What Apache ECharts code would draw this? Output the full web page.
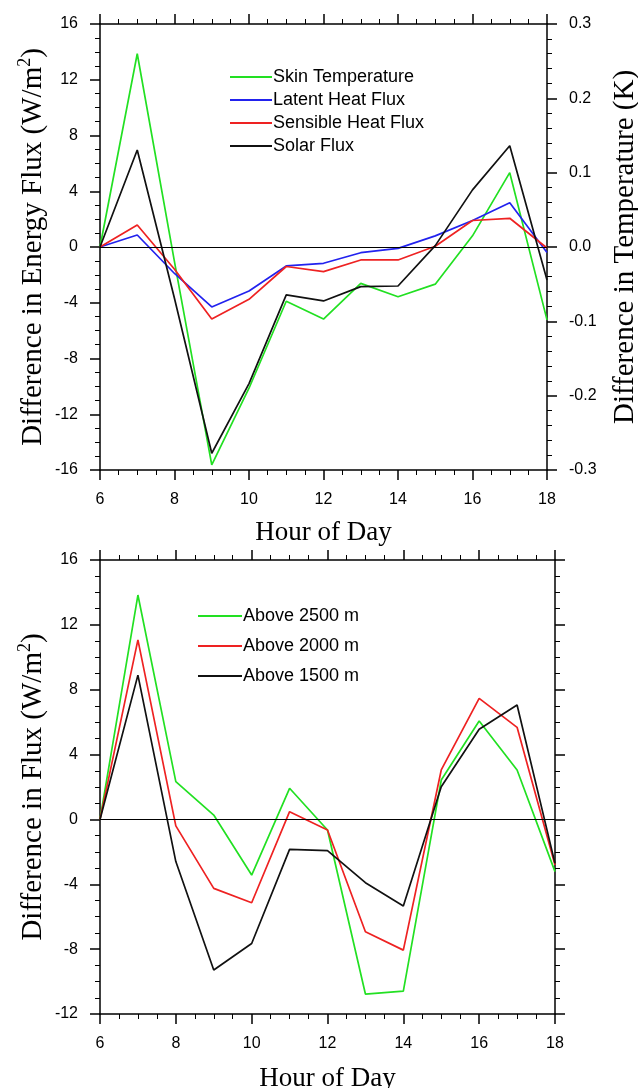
<!DOCTYPE html>
<html><head><meta charset="utf-8">
<script src="https://cdn.jsdelivr.net/npm/echarts@6/dist/echarts.min.js"></script>
<style>html,body{margin:0;padding:0;background:#fff}#c{width:638px;height:1088px}</style>
</head><body><div id="c"></div>
<script>
const hours = [6,7,8,9,10,11,12,13,14,15,16,17,18];
// Top panel
const skinTemperatureK = [0, 0.26, -0.02, -0.293, -0.19, -0.073, -0.097, -0.049, -0.067, -0.05, 0.015, 0.1, -0.098];
const latentHeatFlux = [0, 0.86, -1.9, -4.3, -3.16, -1.36, -1.17, -0.41, -0.1, 0.8, 1.9, 3.18, -0.4];
const sensibleHeatFlux = [0, 1.58, -1.6, -5.16, -3.75, -1.4, -1.77, -0.93, -0.93, 0.05, 1.9, 2.06, -0.07];
const solarFlux = [0, 6.96, -3.7, -14.8, -9.8, -3.44, -3.87, -2.84, -2.8, 0.1, 4.1, 7.27, -2.37];
// Bottom panel
const above2500 = [0, 13.84, 2.33, 0.27, -3.43, 1.92, -0.65, -10.77, -10.59, 2.43, 6.07, 3.05, -3.22];
const above2000 = [0, 11.07, -0.4, -4.25, -5.14, 0.48, -0.65, -6.93, -8.06, 3.05, 7.47, 5.68, -2.81];
const above1500 = [0, 8.9, -2.6, -9.29, -7.65, -1.85, -1.93, -3.9, -5.34, 2.02, 5.56, 7.06, -2.71];
const topNames = ['Skin Temperature','Latent Heat Flux','Sensible Heat Flux','Solar Flux'];
const bottomNames = ['Above 2500 m','Above 2000 m','Above 1500 m'];

const GREEN = '#22e022', BLUE = '#2222ee', RED = '#ee2222', BLACK = '#111111';
const SANS = 'Liberation Sans', SERIF = 'Liberation Serif';
const pairs = v => hours.map((h,i)=>[h, v[i]]);
const richSup = {
  t:{fontFamily:SERIF, fontSize:29, color:'#000', lineHeight:32, verticalAlign:'bottom'},
  sup:{fontFamily:SERIF, fontSize:18, color:'#000', lineHeight:32, verticalAlign:'top', padding:[0,0,12,0]}
};

function xAx(grid, pos, labels, name, gap){
  return {type:'value', gridIndex:grid, position:pos, min:6, max:18, interval:2,
    axisLine:{show:true, onZero:false, lineStyle:{color:'#000', width:1.5}},
    axisTick:{show:true, length:10, lineStyle:{color:'#000', width:1.5}},
    minorTick:{show:true, splitNumber:4, length:5, lineStyle:{color:'#000', width:1}},
    axisLabel:{show:labels, margin:22, color:'#000', fontFamily:SANS, fontSize:16},
    splitLine:{show:false}, minorSplitLine:{show:false},
    name:name, nameLocation:'middle', nameGap:gap, nameMoveOverlap:false,
    nameTextStyle:{fontFamily:SERIF, fontSize:27, color:'#000'}};
}
function yAx(grid, pos, min, max, interval, minorSplit, labels, fmt, name, gap){
  return {type:'value', gridIndex:grid, position:pos, min:min, max:max, interval:interval,
    axisLine:{show:true, onZero:false, lineStyle:{color:'#000', width:1.5}},
    axisTick:{show:true, length:10, lineStyle:{color:'#000', width:1.5}},
    minorTick:{show:true, splitNumber:minorSplit, length:5, lineStyle:{color:'#000', width:1}},
    axisLabel:{show:labels, margin:22, color:'#000', fontFamily:SANS, fontSize:16, formatter:fmt},
    splitLine:{show:false}, minorSplitLine:{show:false},
    name:name, nameLocation:'middle', nameGap:gap, nameMoveOverlap:false,
    nameTextStyle:{fontFamily:SERIF, fontSize:29, color:'#000', rich:richSup}};
}
const zeroLine = {silent:true, symbol:'none', label:{show:false},
  lineStyle:{color:'#000', width:1, type:'solid'}, data:[{yAxis:0}]};
function line(name, data, color, xi, yi, extra){
  return Object.assign({type:'line', name:name, data:pairs(data), xAxisIndex:xi, yAxisIndex:yi,
    symbol:'none', lineStyle:{color:color, width:1.7}, itemStyle:{color:color}, z:3}, extra||{});
}

const chart = echarts.init(document.getElementById('c'));
chart.setOption({
  animation:false,
  backgroundColor:'#fff',
  grid:[
    {left:100, right:91, top:24, height:446, containLabel:false, outerBoundsMode:'none'},
    {left:100, right:83, top:560, height:454, containLabel:false, outerBoundsMode:'none'}
  ],
  xAxis:[
    xAx(0,'bottom',true,'Hour of Day',49),
    xAx(0,'top',false,'',0),
    xAx(1,'bottom',true,'Hour of Day',51),
    xAx(1,'top',false,'',0)
  ],
  yAxis:[
    yAx(0,'left',-16,16,4,4,true,v=>String(Math.round(v)),'{t|Difference in Energy Flux (W/m}{sup|2}{t|)}',52),
    yAx(0,'right',-0.3,0.3,0.1,5,true,v=>v.toFixed(1),'{t|Difference in Temperature (K)}',61),
    yAx(1,'left',-12,16,4,4,true,v=>String(Math.round(v)),'{t|Difference in Flux (W/m}{sup|2}{t|)}',52),
    yAx(1,'right',-12,16,4,4,false,null,'',0)
  ],
  legend:[
    {data:topNames, orient:'vertical', left:225, top:63, icon:'rect', itemWidth:42, itemHeight:2,
     itemGap:5, textStyle:{fontFamily:SANS, fontSize:18, color:'#000', lineHeight:18, padding:[0,0,0,-4]}},
    {data:bottomNames, orient:'vertical', left:193, top:602, icon:'rect', itemWidth:44, itemHeight:2,
     itemGap:12, textStyle:{fontFamily:SANS, fontSize:18, color:'#000', lineHeight:18, padding:[0,0,0,-4]}}
  ],
  series:[
    line('Skin Temperature', skinTemperatureK, GREEN, 0, 1),
    line('Latent Heat Flux', latentHeatFlux, BLUE, 0, 0, {markLine:zeroLine}),
    line('Sensible Heat Flux', sensibleHeatFlux, RED, 0, 0),
    line('Solar Flux', solarFlux, BLACK, 0, 0),
    line('Above 2500 m', above2500, GREEN, 2, 2, {markLine:zeroLine}),
    line('Above 2000 m', above2000, RED, 2, 2),
    line('Above 1500 m', above1500, BLACK, 2, 2)
  ]
});
</script>
</body></html>
